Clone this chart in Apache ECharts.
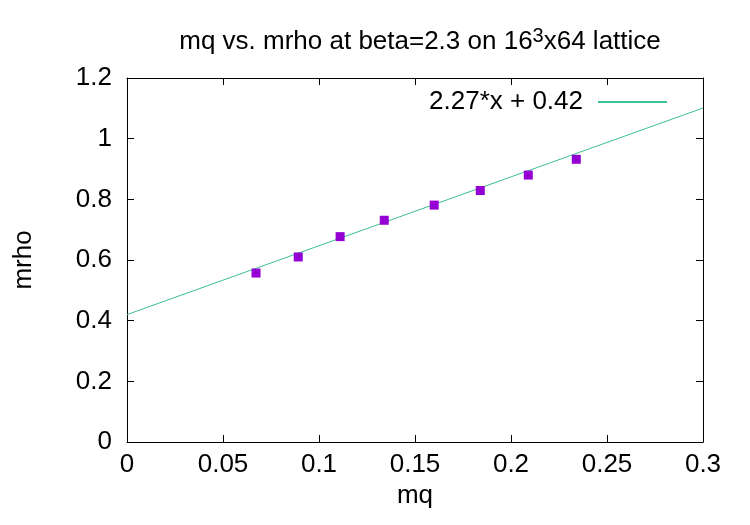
<!DOCTYPE html>
<html><head><meta charset="utf-8">
<script src="https://cdn.jsdelivr.net/npm/echarts@6/dist/echarts.min.js"></script>
<style>html,body{margin:0;padding:0;background:#fff}#c{width:750px;height:525px}</style>
</head><body><div id="c"></div>
<script>
var mq = [0.0672, 0.0892, 0.1110, 0.1340, 0.1600, 0.1840, 0.2090, 0.2340];
var mrho = [0.557, 0.610, 0.677, 0.731, 0.781, 0.829, 0.880, 0.932];
var fitX = [0, 0.3];
var fitY = [0.42, 1.101];
var fitLabel = '2.27*x + 0.42';
var titleText = 'mq vs. mrho at beta=2.3 on 16{sup|3}x64 lattice';

var font = '"Liberation Sans", Arial, sans-serif';
var fs = 26;
var chart = echarts.init(document.getElementById('c'), null, {renderer: 'canvas'});
var pts = mq.map(function (x, i) { return [x, mrho[i]]; });
var fit = fitX.map(function (x, i) { return [x, fitY[i]]; });
var axisLine = {show: true, onZero: false, lineStyle: {color: '#000', width: 1}};
var tick = {show: true, inside: true, length: 7, lineStyle: {color: '#000'}};
chart.setOption({
  animation: false,
  backgroundColor: '#fff',
  title: {
    text: titleText,
    left: 415, top: 21, textAlign: 'center',
    textStyle: {fontFamily: font, fontSize: fs, fontWeight: 'normal', color: '#000',
      rich: {sup: {fontFamily: font, fontSize: 20, verticalAlign: 'top', padding: [0, 0, 12, 0], color: '#000'}}}
  },
  legend: {
    data: [fitLabel], right: 78, top: 84, align: 'right', itemWidth: 69, itemHeight: 2, itemGap: 10,
    icon: 'rect',
    textStyle: {fontFamily: font, fontSize: fs, color: '#000', padding: [0, 10, 0, 0]}
  },
  grid: {left: 127, right: 47, top: 78, bottom: 83},
  xAxis: [{
    type: 'value', min: 0, max: 0.3, interval: 0.05,
    name: 'mq', nameLocation: 'middle', nameGap: 38,
    nameTextStyle: {fontFamily: font, fontSize: fs, color: '#000'},
    axisLine: axisLine, axisTick: tick, splitLine: {show: false},
    axisLabel: {fontFamily: font, fontSize: fs, color: '#000', margin: 10,
      formatter: function (v) { return String(+v.toFixed(2)); }}
  }, {
    type: 'value', min: 0, max: 0.3, interval: 0.05, position: 'top',
    axisLine: axisLine, axisTick: tick, splitLine: {show: false}, axisLabel: {show: false}
  }],
  yAxis: [{
    type: 'value', min: 0, max: 1.2, interval: 0.2,
    name: 'mrho', nameLocation: 'middle', nameGap: 90,
    nameTextStyle: {fontFamily: font, fontSize: fs, color: '#000'},
    axisLine: axisLine, axisTick: tick, splitLine: {show: false},
    axisLabel: {fontFamily: font, fontSize: fs, color: '#000', margin: 15,
      formatter: function (v) { return String(+v.toFixed(1)); }}
  }, {
    type: 'value', min: 0, max: 1.2, interval: 0.2, position: 'right',
    axisLine: axisLine, axisTick: tick, splitLine: {show: false}, axisLabel: {show: false}
  }],
  series: [{
    name: fitLabel, type: 'line', data: fit, showSymbol: false, symbol: 'none',
    lineStyle: {color: '#3cbf94', width: 1}, itemStyle: {color: '#3cbf94'}, z: 2
  }, {
    name: 'data', type: 'scatter', data: pts, symbol: 'rect', symbolSize: 9,
    itemStyle: {color: '#9400d3', opacity: 1}, z: 3
  }]
});
</script></body></html>
